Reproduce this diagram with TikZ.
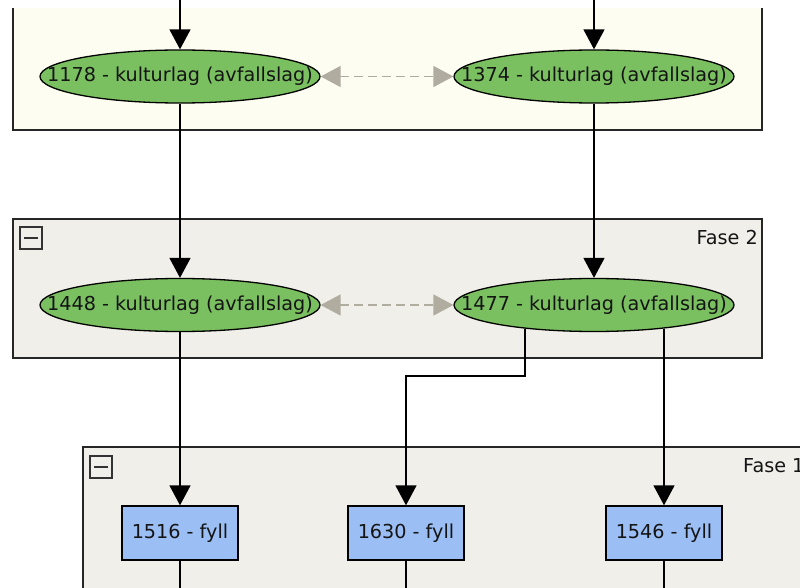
\documentclass[tikz,border=0pt]{standalone}
\usepackage{fontspec}
\setmainfont{DejaVu Sans}
\usetikzlibrary{shapes.geometric,arrows.meta}
\definecolor{creamfill}{RGB}{253,253,242}
\definecolor{phasefill}{RGB}{240,239,234}
\definecolor{greenfill}{RGB}{122,192,96}
\definecolor{bluefill}{RGB}{155,190,245}
\definecolor{dashgrey}{RGB}{176,173,160}
\definecolor{txt}{RGB}{20,20,20}
\newcommand{\zw}[1]{\makebox[0pt]{#1}}
\tikzset{
  layer/.style={ellipse, draw=black, line width=1.3pt, fill=greenfill, minimum width=280pt, minimum height=53pt, inner sep=0pt, font=\fontsize{19.2}{21}\selectfont, text=txt},
  fillbox/.style={rectangle, draw=black, line width=1.4pt, fill=bluefill, minimum width=116pt, minimum height=54pt, inner sep=0pt, font=\fontsize{19.2}{21}\selectfont, text=txt},
  flow/.style={draw=black, line width=1.6pt, -{Triangle[length=20pt,width=21pt]}},
  plain/.style={draw=black, line width=1.6pt},
  samelevel/.style={draw=dashgrey, line width=1.5pt, dash pattern=on 9pt off 5pt, {Triangle[length=20pt,width=21pt]}-{Triangle[length=20pt,width=21pt]}},
  phaseframe/.style={draw=black!85, line width=1.5pt},
  collapser/.style={rectangle, draw=black!80, line width=1.3pt, minimum size=22pt, inner sep=0pt},
  phaselabel/.style={font=\fontsize{19.2}{21}\selectfont, text=txt, inner sep=0pt}
}
\begin{document}
\begin{tikzpicture}[x=1pt,y=-1pt]
\useasboundingbox (0,0) rectangle (800,588);
\fill[white] (0,0) rectangle (800,588);
\clip (0,0) rectangle (800,588);
% top group
\fill[creamfill] (13,8) rectangle (762,130);
\draw[phaseframe] (13,8) -- (13,130) -- (762,130) -- (762,8);
% phase 2 group
\draw[phaseframe, fill=phasefill] (13,219) rectangle (762,358);
\node[collapser] (c2) at (31,238) {};
\draw[black!80, line width=1.2pt] ([xshift=5pt]c2.west) -- ([xshift=-5pt]c2.east);
\node[phaselabel, anchor=east] (f2) at (758,238) {Fase 2};
% phase 1 group
\draw[phaseframe, fill=phasefill] (83,447) rectangle (830,620);
\node[collapser] (c1) at (101,467) {};
\draw[black!80, line width=1.2pt] ([xshift=5pt]c1.west) -- ([xshift=-5pt]c1.east);
\node[phaselabel, anchor=west] (f1) at (743,466) {Fase 1};
% nodes
\node[layer] (e1178) at (180,76.5) {\zw{1178 - kulturlag (avfallslag)}};
\node[layer] (e1374) at (594,76.5) {\zw{1374 - kulturlag (avfallslag)}};
\node[layer] (e1448) at (180,305) {\zw{1448 - kulturlag (avfallslag)}};
\node[layer] (e1477) at (594,305) {\zw{1477 - kulturlag (avfallslag)}};
\node[fillbox] (b1516) at (180,533) {1516 - fyll};
\node[fillbox] (b1630) at (406,533) {1630 - fyll};
\node[fillbox] (b1546) at (664,533) {1546 - fyll};
% free ends
\coordinate (t1) at (180,0);
\coordinate (t2) at (594,0);
\coordinate (a1) at (525,328.5);
\coordinate (a2) at (664,328.5);
\coordinate (d1) at (180,600);
\coordinate (d2) at (406,600);
\coordinate (d3) at (664,600);
% connectors
\draw[flow] (t1) -- (e1178);
\draw[flow] (t2) -- (e1374);
\draw[samelevel] (e1178) -- (e1374);
\draw[flow] (e1178) -- (e1448);
\draw[flow] (e1374) -- (e1477);
\draw[samelevel] (e1448) -- (e1477);
\draw[flow] (e1448) -- (b1516);
\draw[flow] (a1) -- (525,376) -| (b1630.north);
\draw[flow] (a2) -- (b1546.north);
\draw[plain] (b1516) -- (d1);
\draw[plain] (b1630) -- (d2);
\draw[plain] (b1546) -- (d3);
\end{tikzpicture}
\end{document}
